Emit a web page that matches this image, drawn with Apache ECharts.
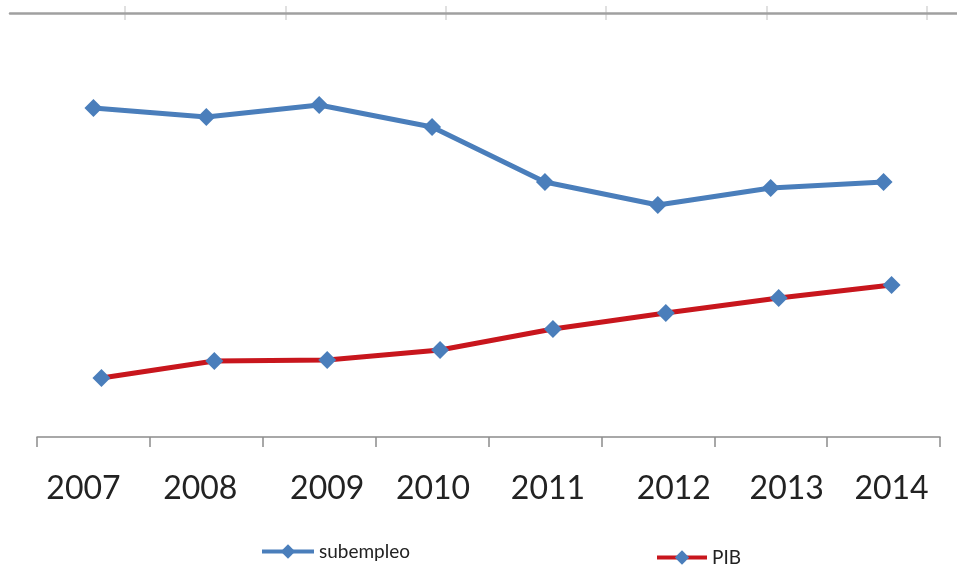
<!DOCTYPE html>
<html>
<head>
<meta charset="utf-8">
<script src="https://cdn.jsdelivr.net/npm/echarts@6/dist/echarts.min.js"></script>
<style>
html, body { margin: 0; background: #fff; }
#main { width: 957px; height: 585px; }
</style>
</head>
<body>
<div id="main"></div>
<script>
var years = ['2007', '2008', '2009', '2010', '2011', '2012', '2013', '2014'];
var subempleo = [32.9, 32.0, 33.2, 31.0, 25.5, 23.2, 24.9, 25.5];
var pib = [5.9, 7.6, 7.7, 8.7, 10.8, 12.4, 13.9, 15.2];
// label nudges (px) to match the uneven spacing of the original year labels
var labelShift = [-10, -6, 8, 1, 3, 16, 16, 8];
// ticks of the cut-off axis along the top edge
var topTicks = ['', '', '', '', '', ''];

var chart = echarts.init(document.getElementById('main'));

var rich = {};
labelShift.forEach(function (s, i) {
    rich['s' + i] = {
        fontFamily: 'Lato', fontSize: 32, color: '#222',
        padding: s >= 0 ? [0, 0, 0, 2 * s] : [0, -2 * s, 0, 0]
    };
});

var blue = '#4a7ebb';
var red = '#c8161d';

option = {
    backgroundColor: '#fff',
    animation: false,
    legend: [{
        data: ['subempleo'],
        left: 255, top: 537,
        itemWidth: 52, itemHeight: 18, itemGap: 5,
        lineStyle: { width: 4 },
        textStyle: { fontFamily: 'Lato', fontSize: 19, color: '#222' }
    }, {
        data: ['PIB'],
        left: 650, top: 543,
        itemWidth: 50, itemHeight: 18, itemGap: 5,
        lineStyle: { width: 4 },
        textStyle: { fontFamily: 'Lato', fontSize: 19, color: '#222' }
    }],
    grid: [
        { left: 37, right: 17, top: 37, bottom: 148 },
        { left: 45, right: 9, top: 37, bottom: 148 },
        { left: 10, right: 0, top: 13, height: 1 },
        { left: 125, right: 30, top: 6, height: 14 }
    ],
    xAxis: [{
        type: 'category', gridIndex: 0, data: years, boundaryGap: true,
        axisLine: { lineStyle: { color: '#8c8c8c', width: 1.5 } },
        axisTick: { show: true, length: 10, lineStyle: { color: '#8c8c8c', width: 1.5 } },
        axisLabel: {
            margin: 36,
            formatter: function (v, i) { return '{s' + i + '|' + v + '}'; },
            rich: rich
        }
    }, {
        type: 'category', gridIndex: 1, data: years, show: false
    }, {
        type: 'value', gridIndex: 2, min: 0, max: 100, position: 'top',
        axisLine: { show: true, onZero: false, lineStyle: { color: '#a0a0a0', width: 2.5 } },
        axisTick: { show: false }, axisLabel: { show: false }, splitLine: { show: false }
    }, {
        type: 'category', gridIndex: 3, data: topTicks, boundaryGap: false,
        axisLine: { show: false }, axisTick: { show: false }, axisLabel: { show: false },
        splitLine: { show: true, interval: 0, lineStyle: { color: '#d6d6d6', width: 1.5 } }
    }],
    yAxis: [
        { type: 'value', gridIndex: 0, min: 0, max: 40, show: false },
        { type: 'value', gridIndex: 1, min: 0, max: 40, show: false },
        { type: 'value', gridIndex: 2, show: false },
        { type: 'value', gridIndex: 3, show: false }
    ],
    series: [{
        name: 'subempleo', type: 'line', data: subempleo,
        xAxisIndex: 0, yAxisIndex: 0,
        symbol: 'diamond', symbolSize: 18,
        lineStyle: { color: blue, width: 5 },
        itemStyle: { color: blue }
    }, {
        name: 'PIB', type: 'line', data: pib,
        xAxisIndex: 1, yAxisIndex: 1,
        symbol: 'diamond', symbolSize: 18,
        lineStyle: { color: red, width: 5 },
        itemStyle: { color: blue }
    }]
};
chart.setOption(option);
</script>
</body>
</html>
